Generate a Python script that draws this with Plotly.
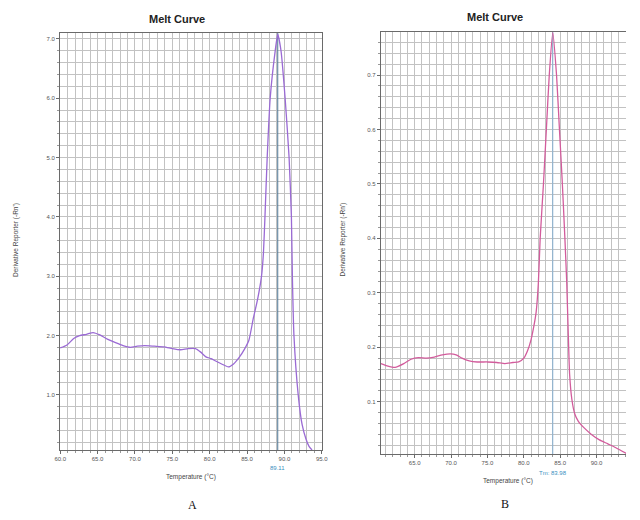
import plotly.graph_objects as go

# ---------------- data ----------------
temp_a = [60.0, 60.9, 61.8, 62.6, 63.5, 64.4, 65.3, 66.3, 67.4, 68.4, 69.4, 70.3, 71.3, 72.6,
          73.9, 75.0, 76.1, 77.1, 78.1, 78.8, 79.5, 80.2, 80.8, 81.6, 82.5, 83.2, 83.95, 84.7,
          85.25, 85.86, 86.4, 86.94, 87.2, 87.4, 87.7, 88.1, 88.77, 89.11, 89.55, 90.1, 90.63,
          90.94, 91.07, 91.28, 91.85, 92.37, 92.9, 93.3, 93.7]
deriv_a = [1.79, 1.84, 1.95, 2.00, 2.02, 2.05, 2.01, 1.94, 1.88, 1.83, 1.80, 1.82, 1.83, 1.82,
           1.81, 1.78, 1.76, 1.78, 1.78, 1.72, 1.64, 1.61, 1.57, 1.52, 1.47, 1.52, 1.63, 1.78,
           1.92, 2.30, 2.60, 3.00, 3.40, 4.00, 5.00, 6.00, 6.80, 7.08, 6.80, 6.00, 5.00,
           4.00, 3.00, 2.00, 1.00, 0.50, 0.25, 0.13, 0.07]
tm_a = 89.11
tm_label_a = "89.11"

temp_b = [60.34, 61.2, 62.3, 63.5, 64.5, 65.5, 66.6, 67.7, 68.8, 69.9, 70.7, 71.5, 72.5, 73.6,
          75.0, 76.3, 77.4, 78.5, 79.3, 80.0, 80.5, 81.0, 81.4, 81.7, 82.0, 82.25, 82.7, 83.1,
          83.5, 83.98, 84.5, 84.9, 85.3, 85.65, 85.9, 86.1, 86.3, 86.6, 87.0, 87.5, 88.3, 89.3,
          90.4, 91.5, 92.6, 93.4, 94.1]
deriv_b = [0.170, 0.166, 0.163, 0.170, 0.178, 0.181, 0.180, 0.182, 0.186, 0.188, 0.186, 0.180,
           0.175, 0.173, 0.173, 0.172, 0.170, 0.172, 0.173, 0.180, 0.193, 0.214, 0.240, 0.265,
           0.318, 0.400, 0.500, 0.600, 0.700, 0.778, 0.700, 0.600, 0.500, 0.400, 0.320, 0.230,
           0.150, 0.105, 0.078, 0.064, 0.052, 0.040, 0.030, 0.023, 0.016, 0.010, 0.005]
tm_b = 83.98
tm_label_b = "Tm: 83.98"

x_ticks = [60, 65, 70, 75, 80, 85, 90, 95]
x_tick_text = ["60.0", "65.0", "70.0", "75.0", "80.0", "85.0", "90.0", "95.0"]
y_ticks_a = [1, 2, 3, 4, 5, 6, 7]
y_tick_text_a = ["1.0", "2.0", "3.0", "4.0", "5.0", "6.0", "7.0"]
y_ticks_b = [0.1, 0.2, 0.3, 0.4, 0.5, 0.6, 0.7]
y_tick_text_b = ["0.1", "0.2", "0.3", "0.4", "0.5", "0.6", "0.7"]

range_xa = [59.98, 95.03]
range_ya = [0.07, 7.1]
range_xb = [60.34, 94.05]
range_yb = [0.004, 0.779]

# ---------------- figure ----------------
FONT = "Liberation Sans, Arial, sans-serif"
GRID = "#c2c2c2"
FRAME = "#6a6a6a"
W, H, OFF = 624, 504, 8   # page has an 8px body margin


def fx(p):
    return (p - OFF) / W


def fy(p):
    return 1 - (p - OFF) / H


fig = go.Figure()
fig.add_trace(go.Scatter(x=[tm_a, tm_a], y=range_ya, mode="lines",
                         line=dict(color="#4f7896", width=1), xaxis="x", yaxis="y",
                         hoverinfo="skip", showlegend=False))
fig.add_trace(go.Scatter(x=temp_a, y=deriv_a, mode="lines",
                         line=dict(color="#9a6ad4", width=1.3, shape="spline", smoothing=0.5),
                         xaxis="x", yaxis="y", showlegend=False))
fig.add_trace(go.Scatter(x=[tm_b, tm_b], y=range_yb, mode="lines",
                         line=dict(color="#86b0d2", width=1), xaxis="x2", yaxis="y2",
                         hoverinfo="skip", showlegend=False))
fig.add_trace(go.Scatter(x=temp_b, y=deriv_b, mode="lines",
                         line=dict(color="#d25c9c", width=1.3, shape="spline", smoothing=0.5),
                         xaxis="x2", yaxis="y2", showlegend=False))


def xaxis(domain, rng, anchor, tv, tt):
    return dict(domain=domain, range=rng, anchor=anchor, tickvals=tv, ticktext=tt,
                showgrid=False, zeroline=False, showline=True, linecolor=FRAME, linewidth=1,
                mirror=True, ticks="outside", ticklen=3, tickcolor=FRAME,
                tickfont=dict(family=FONT, size=6, color="#555555"),
                minor=dict(dtick=1, tick0=60, showgrid=True, gridcolor=GRID, gridwidth=1,
                           ticks="outside", ticklen=2, tickcolor="#999999"))


def yaxis(domain, rng, anchor, tv, tt, minor_dt, mirror):
    return dict(domain=domain, range=rng, anchor=anchor, tickvals=tv, ticktext=tt,
                showgrid=False, zeroline=False, showline=True, linecolor=FRAME, linewidth=1,
                mirror=mirror, ticks="outside", ticklen=3, tickcolor=FRAME,
                tickfont=dict(family=FONT, size=6, color="#555555"),
                minor=dict(dtick=minor_dt, tick0=0, showgrid=True, gridcolor=GRID, gridwidth=1,
                           ticks="outside", ticklen=2, tickcolor="#999999"))


fig.update_layout(
    width=W, height=H,
    margin=dict(l=0, r=0, t=0, b=0),
    paper_bgcolor="white", plot_bgcolor="white",
    xaxis=xaxis([fx(55), fx(322)], range_xa, "y", x_ticks, x_tick_text),
    yaxis=yaxis([fy(450), fy(33)], range_ya, "x", y_ticks_a, y_tick_text_a, 0.2, True),
    xaxis2=xaxis([fx(382), 1.0], range_xb, "y2", x_ticks[:-1], x_tick_text[:-1]),
    yaxis2=yaxis([fy(454), fy(32)], range_yb, "x2", y_ticks_b, y_tick_text_b, 0.02, False),
)

ann = [
    dict(text="<b>Melt Curve</b>", x=174, y=19, size=11, color="#222222"),
    dict(text="<b>Melt Curve</b>", x=498, y=17, size=11, color="#222222"),
    dict(text="Temperature (°C)", x=188, y=477, size=6.5, color="#444444"),
    dict(text="Temperature (°C)", x=512, y=481, size=6.5, color="#444444"),
    dict(text="A", x=190, y=505, size=12, color="#111111",
         family="Liberation Serif, Times New Roman, serif"),
    dict(text="B", x=509, y=504, size=12, color="#111111",
         family="Liberation Serif, Times New Roman, serif"),
]
for a in ann:
    fig.add_annotation(text=a["text"], xref="paper", yref="paper", x=fx(a["x"]), y=fy(a["y"]),
                       showarrow=False, xanchor="center", yanchor="middle",
                       font=dict(family=a.get("family", FONT), size=a["size"], color=a["color"]))

for xp in (10, 343):
    fig.add_annotation(text="Derivative Reporter (-Rn')", xref="paper", yref="paper",
                       x=fx(xp), y=fy(240), textangle=-90, showarrow=False,
                       xanchor="center", yanchor="middle",
                       font=dict(family=FONT, size=6.5, color="#444444"))

fig.add_annotation(text=tm_label_a, xref="x", yref="paper", x=tm_a, y=fy(468),
                   showarrow=False, xanchor="center", yanchor="middle",
                   font=dict(family=FONT, size=6, color="#3a8fc0"))
fig.add_annotation(text=tm_label_b, xref="x2", yref="paper", x=tm_b, y=fy(473),
                   showarrow=False, xanchor="center", yanchor="middle",
                   font=dict(family=FONT, size=6, color="#3a8fc0"))

fig.write_html("out.html")
